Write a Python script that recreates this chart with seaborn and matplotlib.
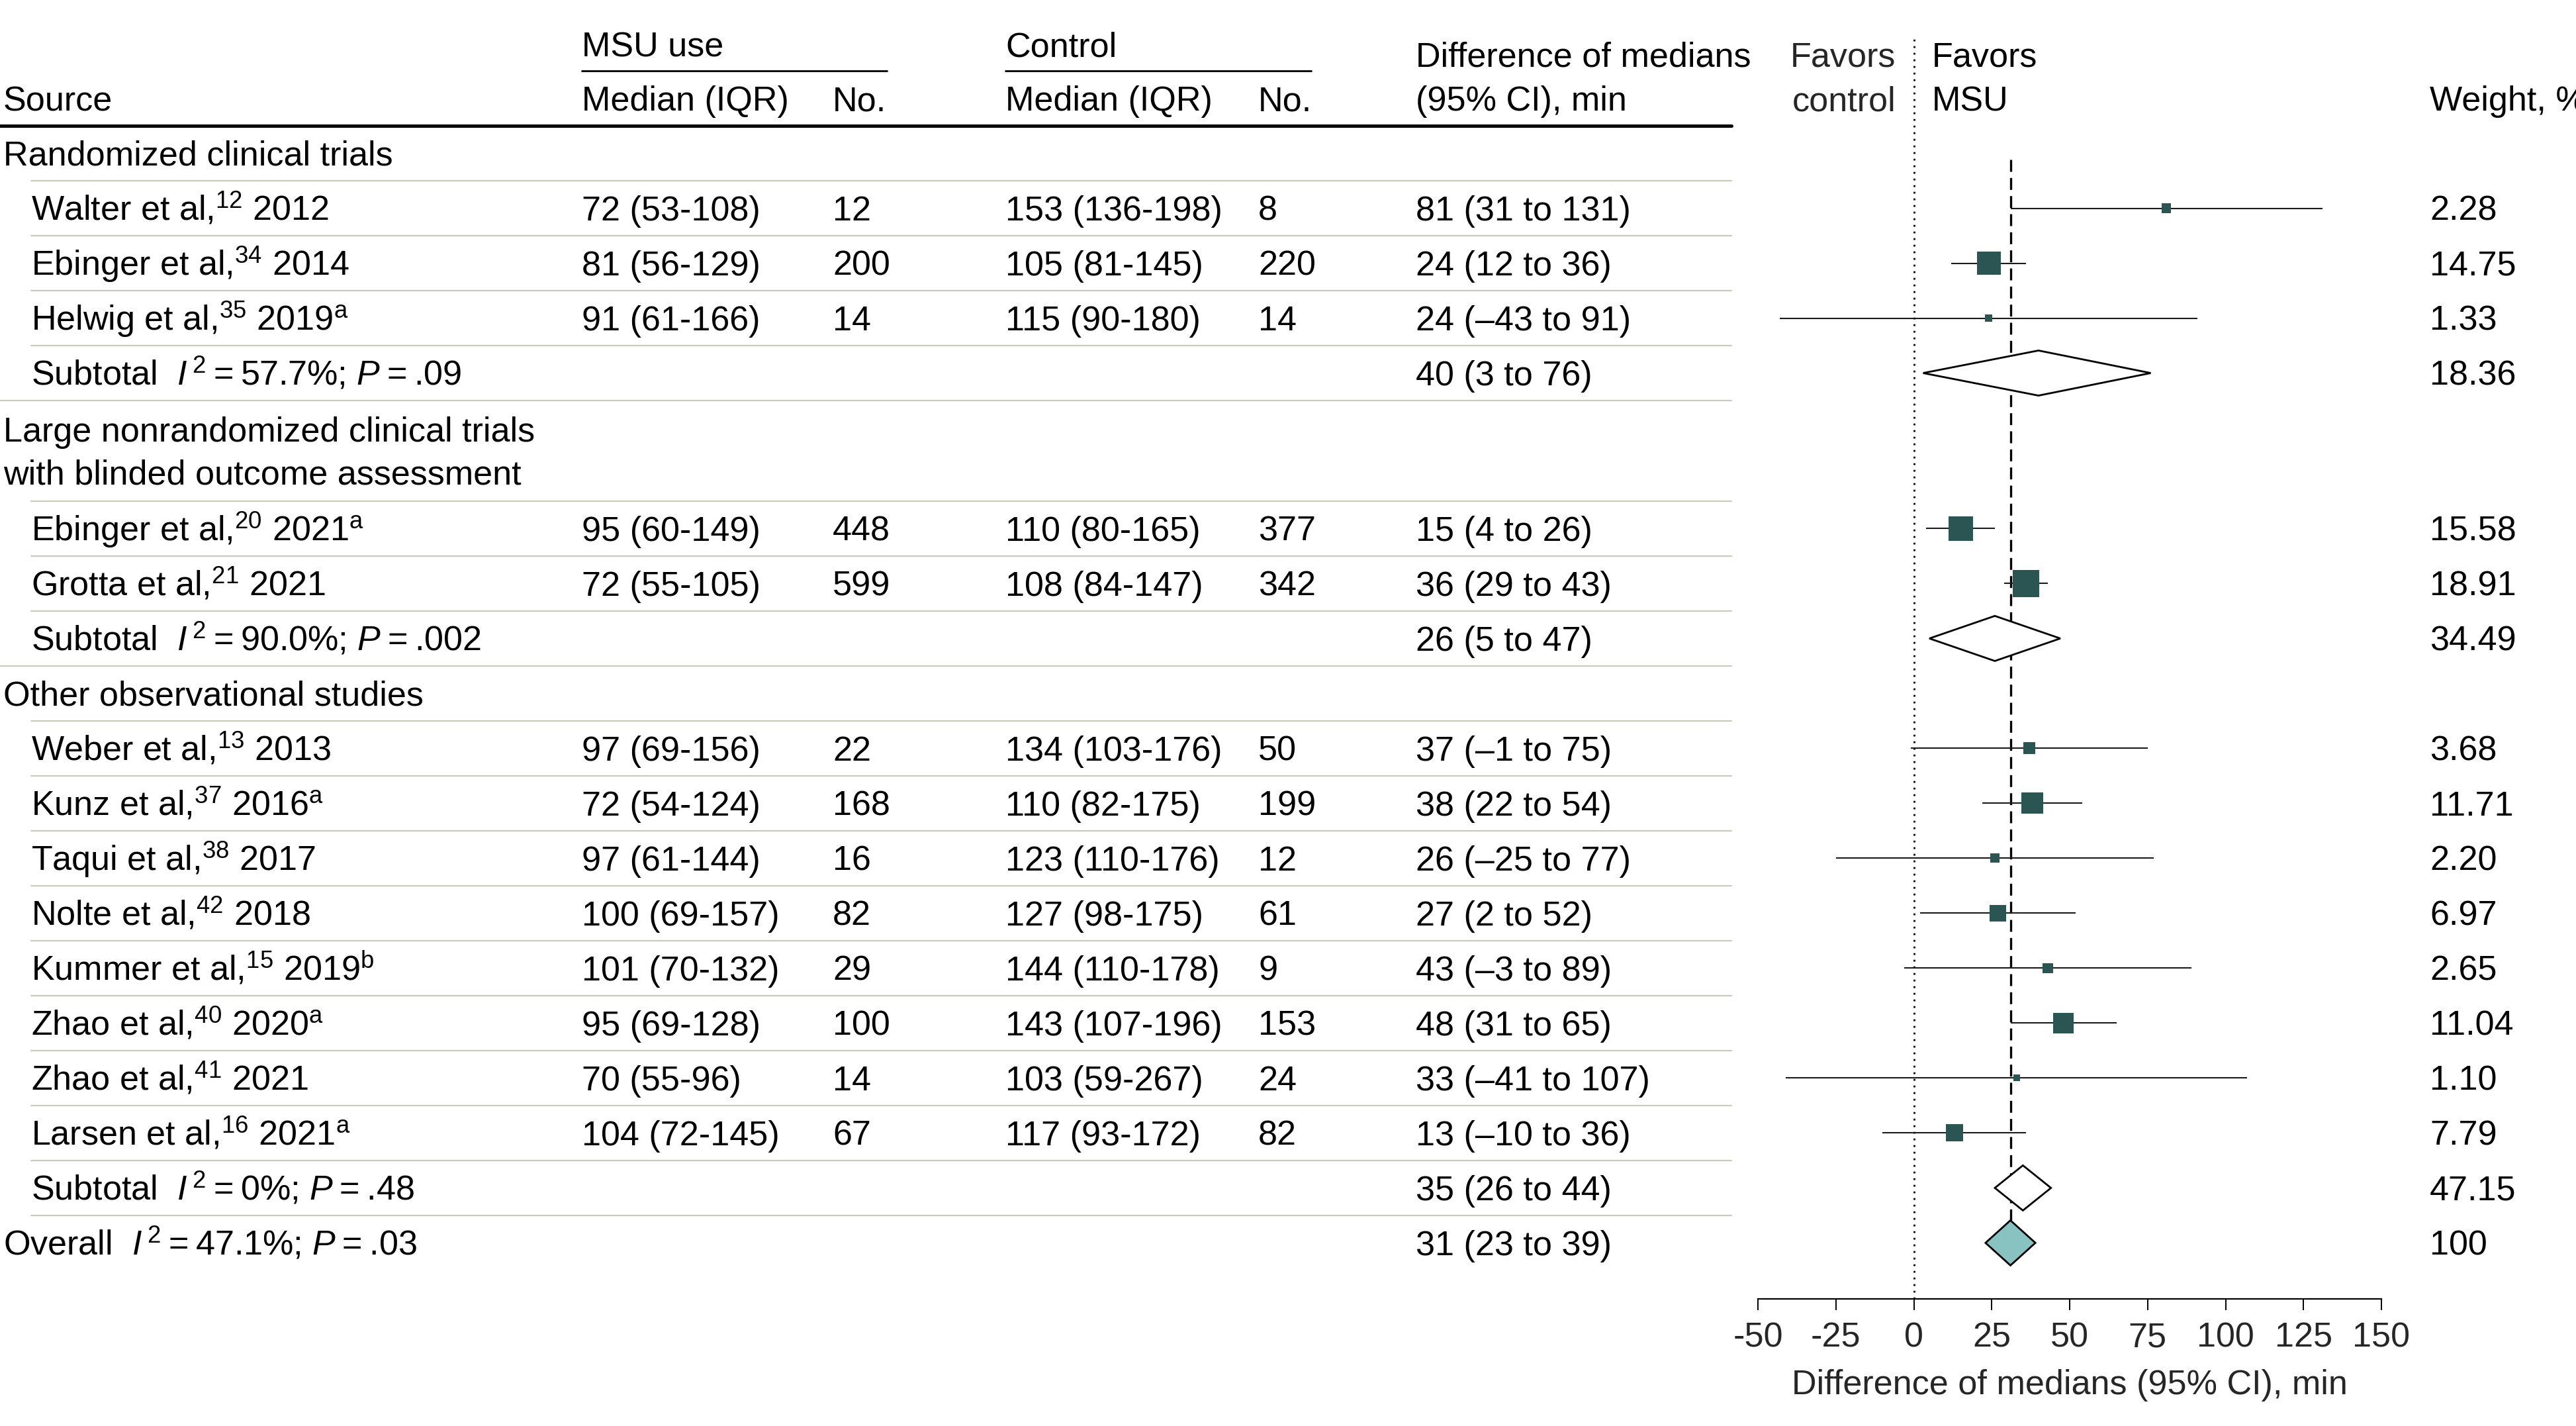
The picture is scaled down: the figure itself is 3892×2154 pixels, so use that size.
import matplotlib
matplotlib.use("Agg")
import matplotlib.pyplot as plt
import matplotlib.transforms as mtransforms
from matplotlib import font_manager
import seaborn as sns
import pandas as pd
import numpy as np

# ---- data ----
sections = ["Randomized clinical trials",
            "Large nonrandomized clinical trials\nwith blinded outcome assessment",
            "Other observational studies"]

study_names = ["Walter et al,$^{12}$ 2012",
               "Ebinger et al,$^{34}$ 2014",
               "Helwig et al,$^{35}$ 2019$^{\\mathrm{a}}$",
               "Ebinger et al,$^{20}$ 2021$^{\\mathrm{a}}$",
               "Grotta et al,$^{21}$ 2021",
               "Weber et al,$^{13}$ 2013",
               "Kunz et al,$^{37}$ 2016$^{\\mathrm{a}}$",
               "Taqui et al,$^{38}$ 2017",
               "Nolte et al,$^{42}$ 2018",
               "Kummer et al,$^{15}$ 2019$^{\\mathrm{b}}$",
               "Zhao et al,$^{40}$ 2020$^{\\mathrm{a}}$",
               "Zhao et al,$^{41}$ 2021",
               "Larsen et al,$^{16}$ 2021$^{\\mathrm{a}}$"]
study_group = [0, 0, 0, 1, 1, 2, 2, 2, 2, 2, 2, 2, 2]

msu_iqr = ["72 (53-108)", "81 (56-129)", "91 (61-166)", "95 (60-149)", "72 (55-105)",
           "97 (69-156)", "72 (54-124)", "97 (61-144)", "100 (69-157)", "101 (70-132)",
           "95 (69-128)", "70 (55-96)", "104 (72-145)"]
msu_n = [12, 200, 14, 448, 599, 22, 168, 16, 82, 29, 100, 14, 67]
ctrl_iqr = ["153 (136-198)", "105 (81-145)", "115 (90-180)", "110 (80-165)", "108 (84-147)",
            "134 (103-176)", "110 (82-175)", "123 (110-176)", "127 (98-175)", "144 (110-178)",
            "143 (107-196)", "103 (59-267)", "117 (93-172)"]
ctrl_n = [8, 220, 14, 377, 342, 50, 199, 12, 61, 9, 153, 24, 82]

diff_est = [81, 24, 24, 15, 36, 37, 38, 26, 27, 43, 48, 33, 13]
diff_lo = [31, 12, -43, 4, 29, -1, 22, -25, 2, -3, 31, -41, -10]
diff_hi = [131, 36, 91, 26, 43, 75, 54, 77, 52, 89, 65, 107, 36]
weights = [2.28, 14.75, 1.33, 15.58, 18.91, 3.68, 11.71, 2.20, 6.97, 2.65, 11.04, 1.10, 7.79]

sub_i2 = ["57.7%", "90.0%", "0%"]
sub_p = [".09", ".002", ".48"]
sub_est = [40, 26, 35]
sub_lo = [3, 5, 26]
sub_hi = [76, 47, 44]
sub_w = [18.36, 34.49, 47.15]

overall_i2, overall_p = "47.1%", ".03"
overall_est, overall_lo, overall_hi, overall_w = 31, 23, 39, 100

xticks = [-50, -25, 0, 25, 50, 75, 100, 125, 150]

# ---- style ----
available = {f.name for f in font_manager.fontManager.ttflist}
FONT = "Liberation Sans Narrow" if "Liberation Sans Narrow" in available else "Liberation Sans"
sns.set_theme(style="white")
plt.rcParams["font.family"] = [FONT, "DejaVu Sans"]
plt.rcParams["mathtext.fontset"] = "custom"
plt.rcParams["mathtext.rm"] = FONT
plt.rcParams["mathtext.it"] = FONT + ":italic"
plt.rcParams["mathtext.bf"] = FONT + ":bold"

FS = 37.5
SQ = "#2b5553"
SEP = "#c9cbbc"
W, H = 3892, 2154
ROW = 83.0      # px per row
RULE_Y = 190.0  # px, header rule
TH = "\u2009"   # thin space


def fx(px):
    return px / W


def fy(py):
    return 1 - py / H


def dash(n):
    return str(n).replace("-", "\u2013")


def ci_text(e, lo, hi):
    return f"{e} ({dash(lo)} to {dash(hi)})"


def het_text(i2, p):
    return f"$I^{{\\,2}}${TH}={TH}{i2}; $P${TH}={TH}{p}"


# ---- build row table ----
rows = []
for g, sec in enumerate(sections):
    rows.append(dict(kind="section", h=1.83 if "\n" in sec else 1.0, g=g))
    for i in [k for k, sg in enumerate(study_group) if sg == g]:
        rows.append(dict(kind="study", h=1.0, i=i))
    rows.append(dict(kind="subtotal", h=1.0, g=g))
rows.append(dict(kind="overall", h=1.0))

tops = np.concatenate([[0], np.cumsum([r["h"] for r in rows])])
for r, t in zip(rows, tops[:-1]):
    r["y"] = t + r["h"] / 2

study_y = {r["i"]: r["y"] for r in rows if r["kind"] == "study"}
df = pd.DataFrame({"est": diff_est, "lo": diff_lo, "hi": diff_hi, "weight": weights,
                   "y": [study_y[i] for i in range(len(diff_est))]})

# ---- figure ----
fig = plt.figure(figsize=(W / 100, H / 100), dpi=100)
ax_top_px, ax_bot_px = 55, 1962
ax = fig.add_axes([fx(2656), fy(ax_bot_px), fx(3598) - fx(2656), (ax_bot_px - ax_top_px) / H])
ax.set_xlim(-50, 150)
ax.set_ylim((ax_bot_px - RULE_Y) / ROW, (ax_top_px - RULE_Y) / ROW)

tr = mtransforms.blended_transform_factory(fig.transFigure, ax.transData)

# reference lines
ax.axvline(0, color="black", lw=2.0, ls=(0, (1, 2.6)), zorder=1)
ax.plot([overall_est, overall_est], [0.62, rows[-1]["y"] - 0.41], color="black",
        lw=2.4, ls=(0, (5.4, 2.8)), zorder=1)

# study CIs and weighted squares
ax.hlines(df["y"], df["lo"], df["hi"], color="#1a1a1a", lw=1.5, zorder=2)
sns.scatterplot(data=df, x="est", y="y", size="weight", sizes=(0, 910), size_norm=(0, 20),
                marker="s", color=SQ, linewidth=0, legend=False, ax=ax, zorder=3)

# pooled diamonds
sub_y = [r["y"] for r in rows if r["kind"] == "subtotal"]
for y, e, lo, hi in zip(sub_y, sub_est, sub_lo, sub_hi):
    ax.fill([lo, e, hi, e], [y, y - 0.41, y, y + 0.41], facecolor="white",
            edgecolor="black", lw=2.0, zorder=3)
oy = rows[-1]["y"]
ax.fill([overall_lo, overall_est, overall_hi, overall_est], [oy, oy - 0.41, oy, oy + 0.41],
        facecolor="#88c3c1", edgecolor="black", lw=2.0, zorder=3)

# axis styling
for s in ["top", "right", "left"]:
    ax.spines[s].set_visible(False)
ax.spines["bottom"].set_linewidth(1.6)
ax.spines["bottom"].set_color("black")
ax.set_yticks([])
ax.set_xticks(xticks)
ax.set_xticklabels([str(t) for t in xticks])
ax.tick_params(axis="x", direction="out", length=12, width=1.4, color="black",
               labelsize=FS, pad=13, bottom=True)
ax.set_xlabel("Difference of medians (95% CI), min", fontsize=FS, labelpad=16)
ax.set_ylabel("")

# ---- table text ----
X_SRC, X_STUDY = 5, 47
X_MSU, X_MSU_N = 879, 1258
X_CTL, X_CTL_N = 1519, 1901
X_DIFF, X_WT = 2139, 3671
BASE = 0.22  # baseline offset below row centre, in rows


def put(x, y, s, **kw):
    ax.text(fx(x), y + BASE, s, transform=tr, fontsize=FS, va="baseline", ha="left",
            color="black", **kw)


for r in rows:
    y = r["y"]
    if r["kind"] == "section":
        lines = sections[r["g"]].split("\n")
        if len(lines) == 1:
            put(X_SRC, y, lines[0])
        else:
            put(X_SRC, y - 0.39, lines[0])
            put(X_SRC, y + 0.39, lines[1])
    elif r["kind"] == "study":
        i = r["i"]
        put(X_STUDY, y, study_names[i])
        put(X_MSU, y, msu_iqr[i])
        put(X_MSU_N, y, str(msu_n[i]))
        put(X_CTL, y, ctrl_iqr[i])
        put(X_CTL_N, y, str(ctrl_n[i]))
        put(X_DIFF, y, ci_text(diff_est[i], diff_lo[i], diff_hi[i]))
        put(X_WT, y, f"{weights[i]:.2f}")
    elif r["kind"] == "subtotal":
        g = r["g"]
        put(X_STUDY, y, "Subtotal  " + het_text(sub_i2[g], sub_p[g]))
        put(X_DIFF, y, ci_text(sub_est[g], sub_lo[g], sub_hi[g]))
        put(X_WT, y, f"{sub_w[g]:.2f}")
    else:
        put(X_SRC, y, "Overall  " + het_text(overall_i2, overall_p))
        put(X_DIFF, y, ci_text(overall_est, overall_lo, overall_hi))
        put(X_WT, y, str(overall_w))

# row separators
for k in range(len(rows) - 1):
    nxt = rows[k + 1]
    x0 = 0 if nxt["kind"] == "section" else X_STUDY
    ax.plot([fx(x0), fx(2616)], [tops[k + 1]] * 2, transform=tr, color=SEP, lw=1.6,
            clip_on=False, zorder=0)

# ---- header ----
ax.plot([0, fx(2616)], [0, 0], transform=tr, color="black", lw=3.6, clip_on=False)
hy1 = (67 - RULE_Y) / ROW     # group titles
hy2 = (82 - RULE_Y) / ROW     # two-line headers, first line
hy3 = (149 - RULE_Y) / ROW    # column titles
uy = (107 - RULE_Y) / ROW     # group underline
put(X_MSU, hy1, "MSU use")
put(X_CTL, hy1, "Control")
ax.plot([fx(X_MSU), fx(1340)], [uy, uy], transform=tr, color="black", lw=2.0, clip_on=False)
ax.plot([fx(X_CTL), fx(1981)], [uy, uy], transform=tr, color="black", lw=2.0, clip_on=False)
put(X_SRC, hy3, "Source")
put(X_MSU, hy3, "Median (IQR)")
put(X_MSU_N, hy3, "No.")
put(X_CTL, hy3, "Median (IQR)")
put(X_CTL_N, hy3, "No.")
put(X_DIFF, hy2, "Difference of medians")
put(X_DIFF, hy3, "(95% CI), min")
ax.text(fx(2864), hy2 + BASE, "Favors", transform=tr, fontsize=FS, va="baseline", ha="right")
ax.text(fx(2864), hy3 + BASE, "control", transform=tr, fontsize=FS, va="baseline", ha="right")
put(2919, hy2, "Favors")
put(2919, hy3, "MSU")
put(X_WT, hy3, "Weight, %")

fig.savefig("out.png", dpi=100, facecolor="white")
